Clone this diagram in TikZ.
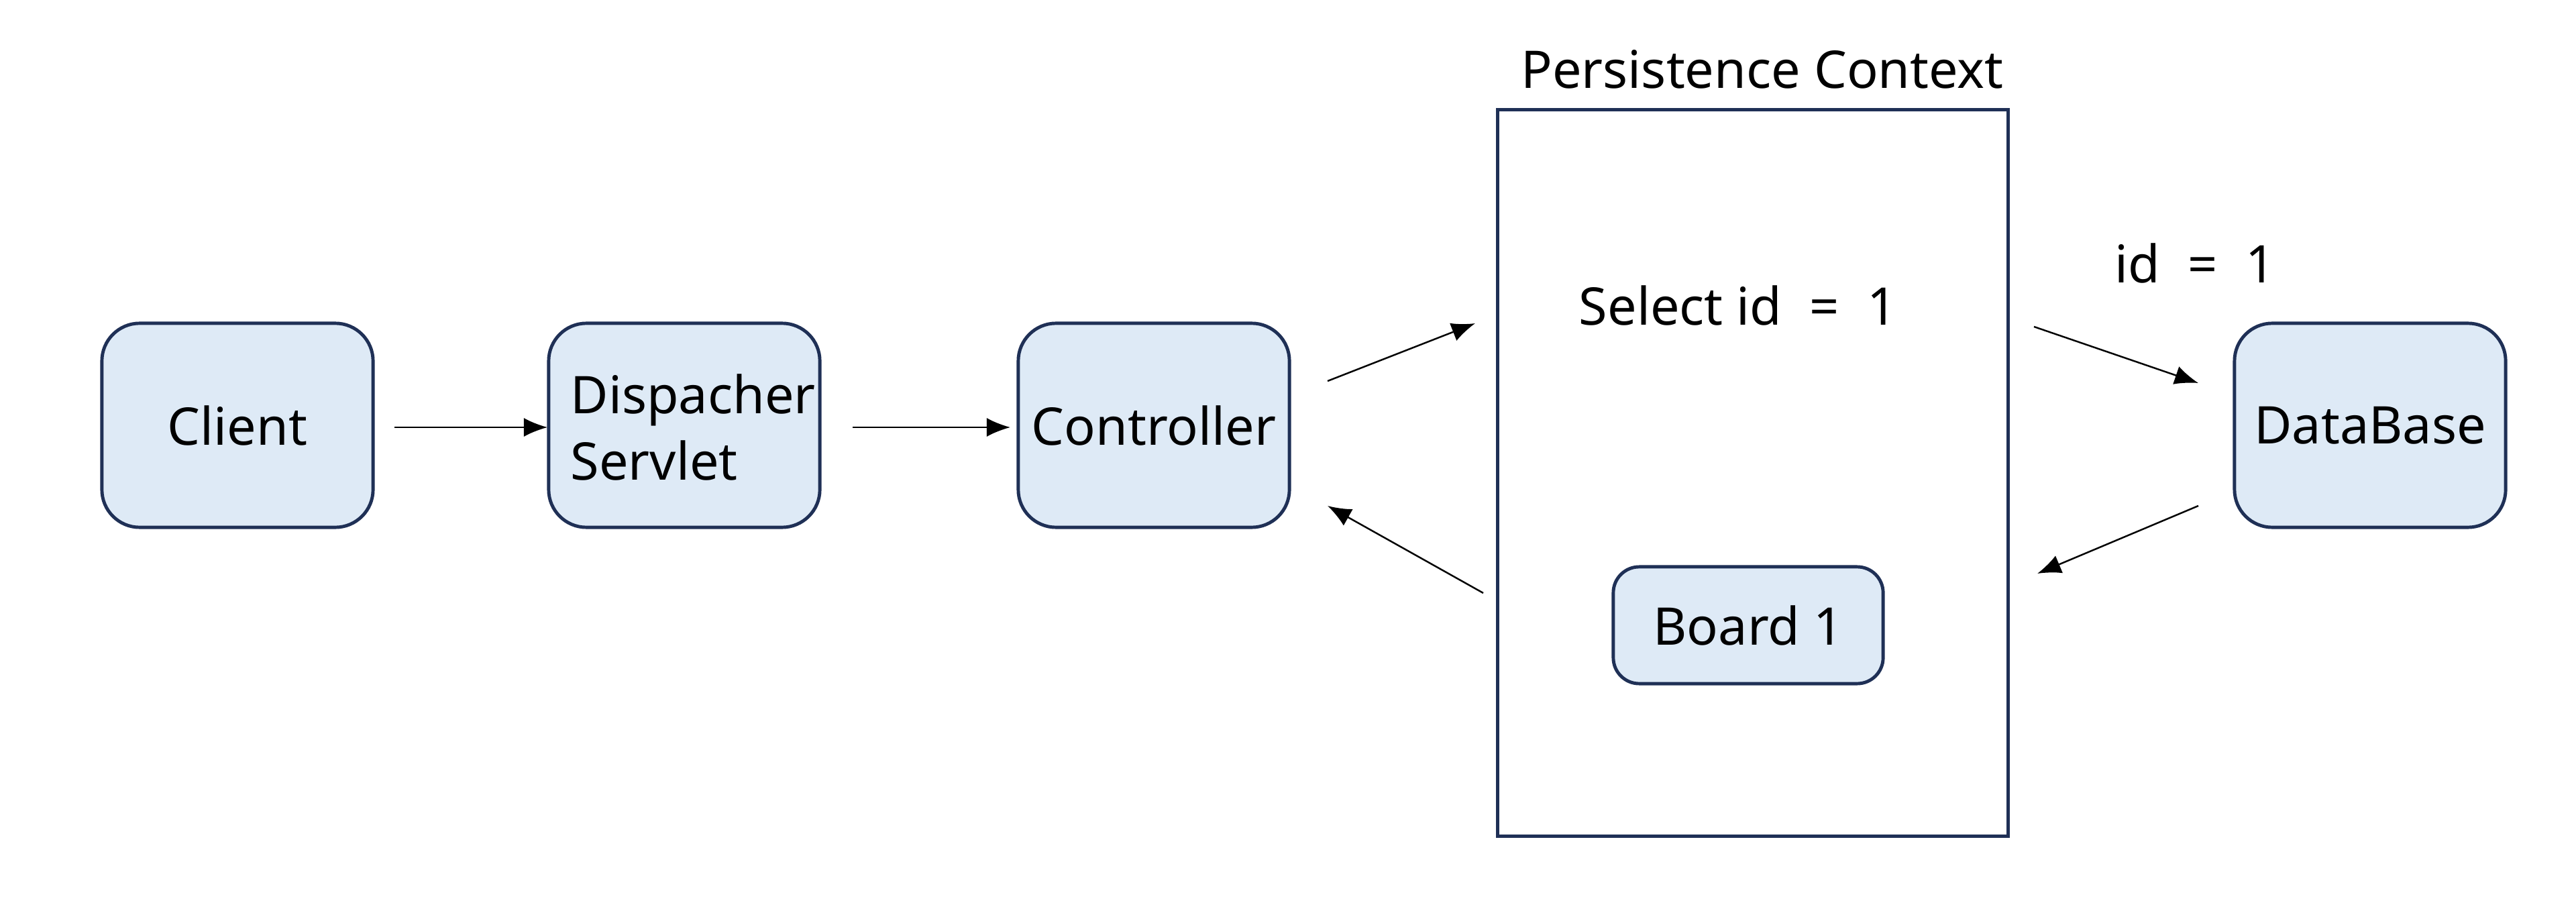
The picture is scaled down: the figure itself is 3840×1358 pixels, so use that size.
\documentclass[tikz,border=0pt]{standalone}
\usepackage{fontspec}
\setmainfont{Noto Sans}
\usetikzlibrary{arrows.meta}
\definecolor{boxline}{HTML}{1F3056}
\definecolor{boxfill}{HTML}{DEEAF6}
\tikzset{
  comp/.style={draw=boxline, fill=boxfill, line width=1.4pt, rounded corners=16pt,
    minimum width=4.04cm, minimum height=3.04cm, inner sep=0pt,
    font=\fontsize{22pt}{28pt}\selectfont},
  lbl/.style={inner sep=0pt, font=\fontsize{22pt}{28pt}\selectfont},
  flow/.style={line width=0.7pt, -{Latex[length=10pt,width=8pt]}}
}
\begin{document}
\begin{tikzpicture}[x=0.01cm, y=-0.01cm]
\useasboundingbox (0,0) rectangle (3840,1358);
\fill[white] (0,0) rectangle (3840,1358);
% main components
\node[comp] (client) at (354,634) {Client};
\node[comp] (disp) at (1020,634) {};
\node[lbl, align=left, anchor=west] (disptext) at (850,637) {Dispacher\\Servlet};
\node[comp] (ctrl) at (1720,634) {Controller};
\node[comp] (db) at (3533,634) {DataBase};
% persistence context
\node[draw=boxline, line width=1.4pt, minimum width=7.6cm, minimum height=10.83cm, inner sep=0pt] (pc) at (2613,705) {};
\node[lbl, anchor=south] (pctitle) at ([xshift=4pt, yshift=8pt]pc.north) {Persistence Context};
\node[lbl] (select) at (2591,455) {Select id \;=\; 1};
\node[comp, rounded corners=11pt, minimum width=4.02cm, minimum height=1.74cm] (board) at (2606,932) {Board 1};
\node[lbl] (idlbl) at (3272,392) {id \;=\; 1};
% connector end points
\coordinate (a1s) at (588,637);  \coordinate (a1e) at (816,637);
\coordinate (a2s) at (1271,637); \coordinate (a2e) at (1506,637);
\coordinate (a3s) at (1979,568); \coordinate (a3e) at (2199,482);
\coordinate (a4s) at (2211,884); \coordinate (a4e) at (1979,754);
\coordinate (a5s) at (3032,487); \coordinate (a5e) at (3277,571);
\coordinate (a6s) at (3277,754); \coordinate (a6e) at (3037,855);
\draw[flow] (a1s) -- (a1e);
\draw[flow] (a2s) -- (a2e);
\draw[flow] (a3s) -- (a3e);
\draw[flow] (a4s) -- (a4e);
\draw[flow] (a5s) -- (a5e);
\draw[flow] (a6s) -- (a6e);
\end{tikzpicture}
\end{document}
